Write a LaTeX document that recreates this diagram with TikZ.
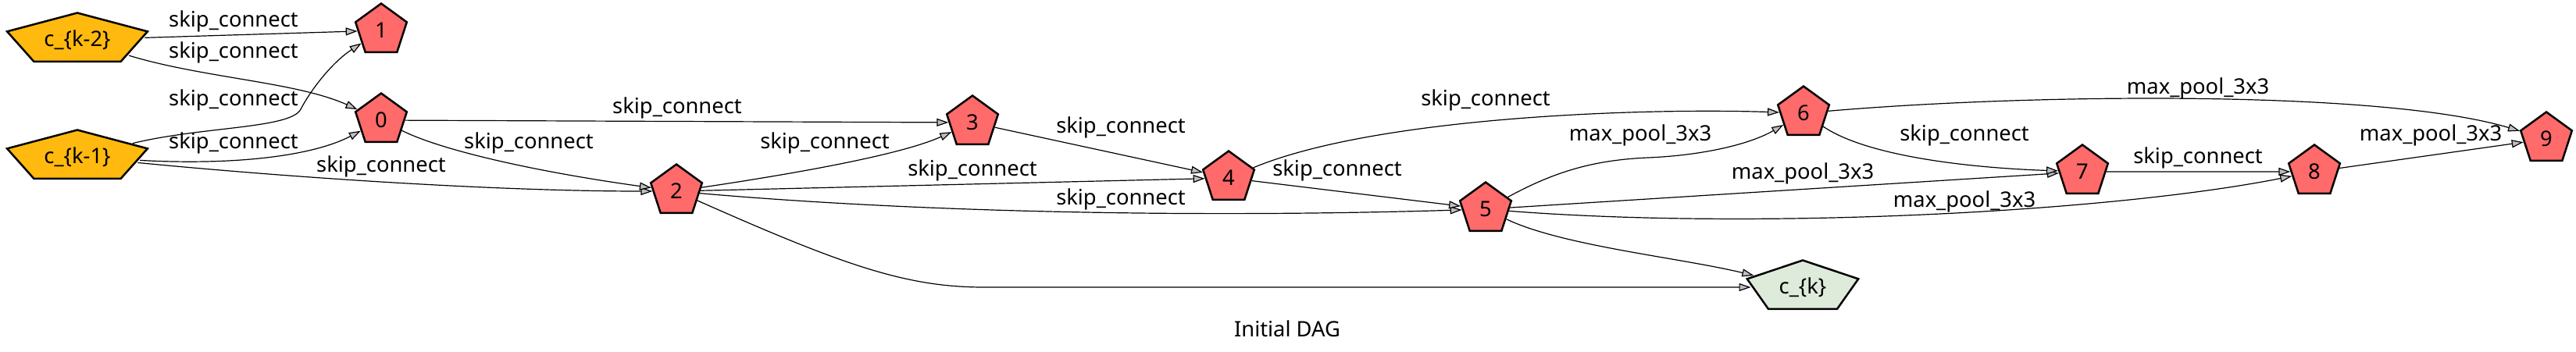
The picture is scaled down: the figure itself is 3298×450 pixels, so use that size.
\documentclass[tikz,border=0pt]{standalone}
\usepackage{fontspec}
\setmainfont{Noto Sans}
\usetikzlibrary{shapes.geometric,arrows.meta}
\definecolor{cellred}{RGB}{255,106,106}
\definecolor{inyellow}{RGB}{255,185,15}
\definecolor{outgreen}{RGB}{222,235,219}
\begin{document}
\begin{tikzpicture}[x=0.3pt, y=-0.3pt, font=\fontsize{8.2}{10}\selectfont,
	main/.style = {draw, line width=0.75pt, regular polygon, regular polygon sides=5, minimum size=20.7pt, inner sep=0pt, fill=cellred},
	inp/.style = {main, fill=inyellow, xscale=2.74, transform shape},
	outp/.style = {main, fill=outgreen, xscale=2.17, transform shape},
	edge/.style = {line width=0.36pt, -{Triangle[length=4.5pt, width=3pt, fill=gray!50]}},
	op/.style = {inner sep=0pt}]
	\useasboundingbox (0,0) rectangle (3298,450);
	\node[inp] (k2) at (99,51) {\scalebox{0.365}[1]{c\_\{k-2\}}};
	\node[inp] (k1) at (99,201) {\scalebox{0.365}[1]{c\_\{k-1\}}};
	\node[main] (1) at (488,39) {1};
	\node[main] (0) at (488,154) {0};
	\node[main] (2) at (866,245) {2};
	\node[main] (3) at (1245,157) {3};
	\node[main] (4) at (1573,228) {4};
	\node[main] (5) at (1902,268) {5};
	\node[main] (6) at (2309,145) {6};
	\node[main] (7) at (2666,220) {7};
	\node[main] (8) at (2963,220) {8};
	\node[main] (9) at (3260,178) {9};
	\node[outp] (ck) at (2308,368) {\scalebox{0.461}[1]{c\_\{k\}}};
	\draw[edge] (k2) -- (1);
	\draw[edge] (k2) .. controls (260,100) and (380,105) .. (0);
	\draw[edge] (k1) .. controls (258,162) and (372,165) .. (385,140) .. controls (398,115) and (425,80) .. (1);
	\draw[edge] (k1) .. controls (300,212) and (400,200) .. (0);
	\draw[edge] (k1) .. controls (400,230) and (650,245) .. (2);
	\draw[edge] (0) -- (3);
	\draw[edge] (0) .. controls (570,195) and (700,222) .. (2);
	\draw[edge] (2) .. controls (1000,225) and (1150,200) .. (3);
	\draw[edge] (2) -- (4);
	\draw[edge] (2) .. controls (1150,270) and (1500,280) .. (5);
	\draw[edge] (2) .. controls (1080,340) and (1160,368) .. (1260,368) -- (ck);
	\draw[edge] (3) -- (4);
	\draw[edge] (4) .. controls (1760,150) and (2100,138) .. (6);
	\draw[edge] (4) -- (5);
	\draw[edge] (5) .. controls (1990,220) and (2040,205) .. (2110,202) .. controls (2180,199) and (2240,185) .. (6);
	\draw[edge] (5) -- (7);
	\draw[edge] (5) .. controls (2250,295) and (2700,272) .. (8);
	\draw[edge] (5) .. controls (2000,315) and (2150,330) .. (ck);
	\draw[edge] (6) .. controls (2600,120) and (3050,115) .. (9);
	\draw[edge] (6) .. controls (2390,200) and (2520,215) .. (7);
	\draw[edge] (7) -- (8);
	\draw[edge] (8) -- (9);
	\node[op] (l1) at (299,27) {skip\_connect};
	\node[op] (l2) at (299,67) {skip\_connect};
	\node[op] (l3) at (299,128) {skip\_connect};
	\node[op] (l4) at (299,183) {skip\_connect};
	\node[op] (l5) at (488,213) {skip\_connect};
	\node[op] (l6) at (867,138) {skip\_connect};
	\node[op] (l7) at (677,183) {skip\_connect};
	\node[op] (l8) at (1056,183) {skip\_connect};
	\node[op] (l9) at (1245,218) {skip\_connect};
	\node[op] (l10) at (1435,163) {skip\_connect};
	\node[op] (l11) at (1435,255) {skip\_connect};
	\node[op] (l12) at (1712,218) {skip\_connect};
	\node[op] (l13) at (1902,128) {skip\_connect};
	\node[op] (l14) at (2100,173) {max\_pool\_3x3};
	\node[op] (l15) at (2308,222) {max\_pool\_3x3};
	\node[op] (l16) at (2515,258) {max\_pool\_3x3};
	\node[op] (l17) at (2515,173) {skip\_connect};
	\node[op] (l18) at (2814,202) {skip\_connect};
	\node[op] (l19) at (2814,113) {max\_pool\_3x3};
	\node[op] (l20) at (3112,173) {max\_pool\_3x3};
	\node[op] (title) at (1648,421) {Initial DAG};
\end{tikzpicture}
\end{document}
